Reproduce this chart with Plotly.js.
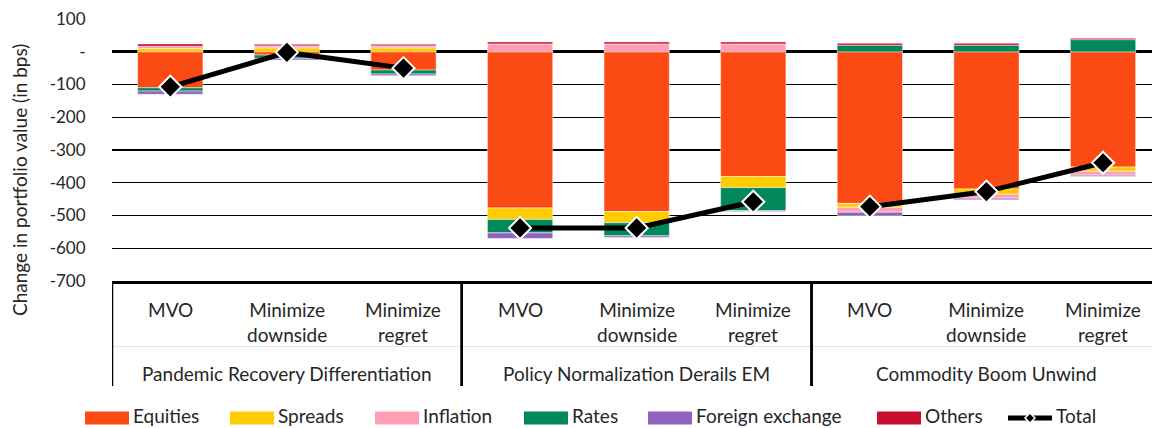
<!DOCTYPE html>
<html>
<head>
<meta charset="utf-8">
<script src="https://cdn.plot.ly/plotly-3.0.1.min.js"></script>
<style>
  html, body { margin: 0; padding: 0; background: #fff; }
  #chart { width: 1152px; height: 428px; }
</style>
</head>
<body>
<div id="chart"></div>
<script>
// Scenario groups (outer category level) and optimisation strategies (inner level)
const scenarios = [
  'Pandemic Recovery Differentiation', 'Pandemic Recovery Differentiation', 'Pandemic Recovery Differentiation',
  'Policy Normalization Derails EM', 'Policy Normalization Derails EM', 'Policy Normalization Derails EM',
  'Commodity Boom Unwind', 'Commodity Boom Unwind', 'Commodity Boom Unwind'
];
const strategies = [
  'MVO', 'Minimize<br>downside', 'Minimize<br>regret',
  'MVO', 'Minimize<br>downside', 'Minimize<br>regret',
  'MVO', 'Minimize<br>downside', 'Minimize<br>regret'
];

// Contribution to change in portfolio value, in bps
const equities  = [-110, -10, -56, -477, -488, -381, -463, -419, -352];
const spreads   = [  10,  12,  12,  -35,  -34,  -34,  -12,  -16,  -13];
const inflation = [   7,   6,   6,   24,   24,   24,  -15,  -12,  -12];
const rates     = [ -10, -10, -12,  -41,  -40,  -70,   20,   20,   37];
const fx        = [ -10,  -5,  -5,  -17,   -5,   -3,  -10,   -5,   -4];
const others    = [   7,   5,   5,    6,    6,    6,    6,    6,    4];
const total     = [-107,  -2, -50, -538, -538, -458, -473, -427, -339];

const yTickVals = [100, 0, -100, -200, -300, -400, -500, -600, -700];
const yTickText = ['100', '-', '-100', '-200', '-300', '-400', '-500', '-600', '-700'];

const seriesNames = ['Equities', 'Spreads', 'Inflation', 'Rates', 'Foreign exchange', 'Others'];
const seriesValues = [equities, spreads, inflation, rates, fx, others];
const seriesColors = ['#FC4A14', '#FFCC00', '#FF9EB5', '#00875A', '#9064BE', '#C8102E'];

const FONT = 'Lato, "Open Sans", sans-serif';
const TEXT_COLOR = '#262626';
const TEXT_SIZE = 19;

// category slot for each bar
const slots = strategies.map((_, i) => i);

const traces = seriesNames.map((name, i) => ({
  type: 'bar',
  name: name,
  x: slots,
  y: seriesValues[i],
  width: 0.56,
  marker: { color: seriesColors[i], line: { color: 'rgba(255,255,255,0.6)', width: 0.8 } },
  showlegend: false,
  hoverinfo: 'y+name'
}));

// Total: one connected line per scenario group
const groups = [...new Set(scenarios)];
groups.forEach(g => {
  const idx = slots.filter(i => scenarios[i] === g);
  traces.push({
    type: 'scatter',
    mode: 'lines+markers',
    name: 'Total',
    x: idx,
    y: idx.map(i => total[i]),
    line: { color: '#000', width: 5 },
    marker: { symbol: 'diamond', size: 17, color: '#000', line: { color: '#fff', width: 2 } },
    showlegend: false
  });
});

const W = 1152, H = 428, ML = 112, MR = 0, MT = 19, MB = 147;
const PW = W - ML - MR, PH = H - MT - MB;
const px2x = p => (p - ML) / PW;
const py2y = p => (H - MB - p) / PH;

const shapes = [];
const annotations = [];

// Two-level category axis: strategy labels, scenario labels and group dividers
slots.forEach(i => {
  annotations.push({ xref: 'x', yref: 'paper', x: i, y: py2y(296),
    xanchor: 'center', yanchor: 'top', text: strategies[i], showarrow: false,
    font: { family: FONT, size: TEXT_SIZE, color: TEXT_COLOR } });
});
groups.forEach(g => {
  const idx = slots.filter(i => scenarios[i] === g);
  const lo = idx[0], hi = idx[idx.length - 1];
  annotations.push({ xref: 'x', yref: 'paper', x: (lo + hi) / 2, y: py2y(373),
    xanchor: 'center', yanchor: 'middle', text: g, showarrow: false,
    font: { family: FONT, size: TEXT_SIZE, color: TEXT_COLOR } });
  [lo - 0.5, hi + 0.5].forEach(b => {
    shapes.push({ type: 'line', xref: 'x', yref: 'paper', x0: b, x1: b,
      y0: py2y(281), y1: py2y(386), line: { color: '#000', width: 2.5 } });
  });
});
shapes.push({ type: 'line', xref: 'paper', yref: 'paper', x0: 0, x1: 1,
  y0: py2y(346.5), y1: py2y(346.5), line: { color: '#e4e4e4', width: 1 }, layer: 'below' });

// Legend drawn as swatches + labels below the category axis
const legendNames = seriesNames.concat(['Total']);
const legendColors = seriesColors.concat(['#000']);
const legendSwatchX = [85, 230, 375, 524, 648, 877, 1008];
const legendY = 418;
legendNames.forEach((name, i) => {
  const x0 = legendSwatchX[i], x1 = x0 + 44;
  if (name === 'Total') {
    shapes.push({ type: 'line', xref: 'paper', yref: 'paper',
      x0: px2x(x0), x1: px2x(x1), y0: py2y(legendY), y1: py2y(legendY),
      line: { color: '#000', width: 5 } });
    const cx = (x0 + x1) / 2, r = 5;
    shapes.push({ type: 'path', xref: 'paper', yref: 'paper',
      path: 'M' + px2x(cx - r) + ',' + py2y(legendY) + ' L' + px2x(cx) + ',' + py2y(legendY - r) +
        ' L' + px2x(cx + r) + ',' + py2y(legendY) + ' L' + px2x(cx) + ',' + py2y(legendY + r) + ' Z',
      fillcolor: '#000', line: { color: '#fff', width: 1.5 } });
  } else {
    shapes.push({ type: 'rect', xref: 'paper', yref: 'paper',
      x0: px2x(x0), x1: px2x(x1), y0: py2y(legendY - 6.5), y1: py2y(legendY + 6.5),
      fillcolor: legendColors[i], line: { width: 0 } });
  }
  annotations.push({ xref: 'paper', yref: 'paper', x: px2x(x1 + 3), y: py2y(415),
    xanchor: 'left', yanchor: 'middle', text: name, showarrow: false, borderpad: 0,
    font: { family: FONT, size: TEXT_SIZE, color: TEXT_COLOR } });
});

// y-axis title
annotations.push({ xref: 'paper', yref: 'paper', x: px2x(19), y: py2y(180),
  xanchor: 'center', yanchor: 'middle', textangle: -90,
  text: 'Change in portfolio value (in bps)', showarrow: false,
  font: { family: FONT, size: TEXT_SIZE, color: TEXT_COLOR } });

const layout = {
  width: W, height: H,
  margin: { l: ML, r: MR, t: MT, b: MB, pad: 0 },
  paper_bgcolor: '#fff', plot_bgcolor: '#fff',
  barmode: 'relative',
  font: { family: FONT, size: TEXT_SIZE, color: TEXT_COLOR },
  xaxis: {
    range: [-0.5, 8.42],
    showline: true, linecolor: '#000', linewidth: 2.5,
    showgrid: false, zeroline: false,
    showticklabels: false, ticks: ''
  },
  yaxis: {
    range: [-700, 100],
    tickvals: yTickVals, ticktext: yTickText,
    showgrid: true, gridcolor: '#000', gridwidth: 1.2,
    zeroline: true, zerolinecolor: '#000', zerolinewidth: 3,
    showline: false,
    ticks: 'outside', ticklen: 22, tickcolor: 'rgba(0,0,0,0)',
    tickfont: { family: FONT, size: 17, color: TEXT_COLOR }
  },
  shapes: shapes,
  annotations: annotations
};

Plotly.newPlot('chart', traces, layout, { displayModeBar: false, staticPlot: true });
</script>
</body>
</html>
